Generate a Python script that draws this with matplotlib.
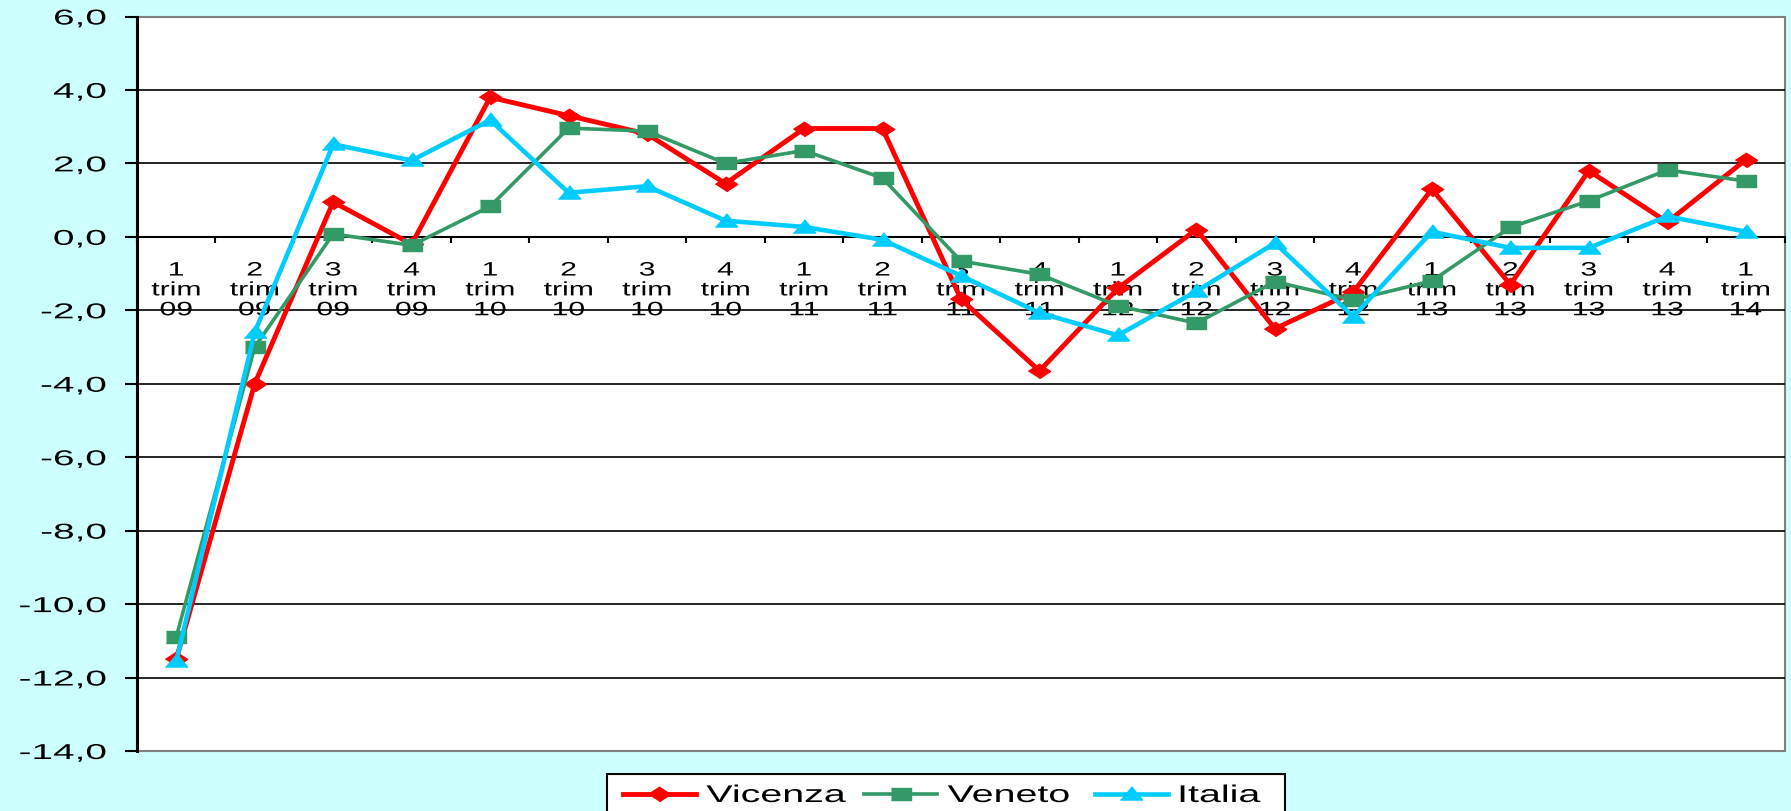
import matplotlib
matplotlib.use('Agg')
import matplotlib.pyplot as plt
from matplotlib.patheffects import AbstractPathEffect
from matplotlib.transforms import Affine2D
from matplotlib.patches import Rectangle

# trimestri 1/09 .. 1/14
quarters = ['1', '2', '3', '4'] * 5 + ['1']
years = ['09'] * 4 + ['10'] * 4 + ['11'] * 4 + ['12'] * 4 + ['13'] * 4 + ['14']

vicenza = [-11.5, -4.0, 0.95, -0.2, 3.8, 3.3, 2.8, 1.45, 2.95, 2.95, -1.7,
           -3.65, -1.4, 0.2, -2.5, -1.5, 1.3, -1.3, 1.8, 0.4, 2.1]
veneto = [-10.9, -3.0, 0.08, -0.23, 0.83, 2.96, 2.88, 2.0, 2.35, 1.6, -0.66,
          -1.02, -1.88, -2.35, -1.22, -1.72, -1.2, 0.26, 0.98, 1.82, 1.52]
italia = [-11.55, -2.6, 2.52, 2.08, 3.18, 1.2, 1.38, 0.44, 0.27, -0.08, -1.06,
          -2.07, -2.68, -1.48, -0.17, -2.17, 0.14, -0.3, -0.3, 0.56, 0.14]

yticks = [-14, -12, -10, -8, -6, -4, -2, 0, 2, 4, 6]

# flattened markers, as in the (horizontally stretched) original
diamond = [(-1, 0), (0, 0.65), (1, 0), (0, -0.65)]
square = [(-1, -0.6), (1, -0.6), (1, 0.6), (-1, 0.6)]
triangle = [(-1, -0.5), (1, -0.5), (0, 0.7)]


class Stretch(AbstractPathEffect):
    # widen the glyphs horizontally, like the stretched original picture
    def __init__(self, sx, anchor='center'):
        super().__init__()
        self.sx = sx
        self.anchor = anchor

    def draw_path(self, renderer, gc, tpath, affine, rgbFace=None):
        ext = tpath.get_extents()
        if self.anchor == 'left':
            ax0 = ext.x0
        elif self.anchor == 'right':
            ax0 = ext.x1
        else:
            ax0 = (ext.x0 + ext.x1) / 2
        t = Affine2D().translate(-ax0, 0).scale(self.sx, 1).translate(ax0, 0) + affine
        renderer.draw_path(gc, tpath, t, rgbFace)


plt.rcParams['font.family'] = ['Liberation Sans', 'DejaVu Sans']

W, H = 1791, 812
fig = plt.figure(figsize=(W / 100, H / 100), dpi=100, facecolor='#CCFFFF')
ax = fig.add_axes([137 / W, 1 - 752 / H, (1785 - 137) / W, (752 - 17.5) / H])
ax.patch.set_facecolor('white')
ax.patch.set_edgecolor('#808080')
ax.patch.set_linewidth(1.5)

x = list(range(len(quarters)))
for v in yticks[1:-1]:
    ax.axhline(v, color='black', lw=1.2, zorder=1)

ax.plot(x, vicenza, color='#FF0000', lw=3.5, marker=diamond, ms=16, label='Vicenza', zorder=3)
ax.plot(x, veneto, color='#339966', lw=2.6, marker=square, ms=14, label='Veneto', zorder=4)
ax.plot(x, italia, color='#00CCFF', lw=3.3, marker=triangle, ms=16, label='Italia', zorder=5)

ax.set_xlim(-0.5, len(quarters) - 0.5)
ax.set_ylim(yticks[0], yticks[-1])

for s in ['top', 'right']:
    ax.spines[s].set_visible(False)
ax.spines['left'].set_color('black')
ax.spines['left'].set_linewidth(2.2)
ax.spines['bottom'].set_position(('data', 0))
ax.spines['bottom'].set_color('black')
ax.spines['bottom'].set_linewidth(1.5)
ax.spines['bottom'].set_zorder(2)

ax.set_xticks(x)
xlabs = ax.set_xticklabels([q + '\ntrim\n' + y for q, y in zip(quarters, years)], fontsize=14)
ax.set_xticks([i - 0.5 for i in range(len(quarters) + 1)], minor=True)
ax.tick_params(axis='x', which='major', length=0, pad=18.5)
ax.tick_params(axis='x', which='minor', length=4.5, width=1.5, direction='out')
for lab in xlabs:
    lab.set_linespacing(1.22)
    lab.set_path_effects([Stretch(1.55, 'center')])

ax.set_yticks(yticks)
ylabs = ax.set_yticklabels([f'{v:.1f}'.replace('.', ',') for v in yticks], fontsize=15.5)
ax.tick_params(axis='y', length=8.6, width=1.5, pad=13.5)
for lab in ylabs:
    lab.set_path_effects([Stretch(1.8, 'right')])

# legend frame (cut at the bottom of the picture, like the original)
fig.add_artist(Rectangle((607 / W, -0.05), (1285 - 607) / W, 0.05 + 1 - 775 / H,
                         transform=fig.transFigure, facecolor='white',
                         edgecolor='black', lw=1.5, zorder=2))
leg = fig.legend(loc='center left', bbox_to_anchor=(623 / W, 1 - 797 / H), ncol=3,
                 frameon=False, fontsize=17.4, handlelength=3.0, handletextpad=0.45,
                 columnspacing=3.0, borderpad=0, borderaxespad=0)
leg.set_zorder(5)
for t in leg.get_texts():
    t.set_path_effects([Stretch(1.63, 'left')])

fig.savefig('out.png', dpi=100, facecolor=fig.get_facecolor())
